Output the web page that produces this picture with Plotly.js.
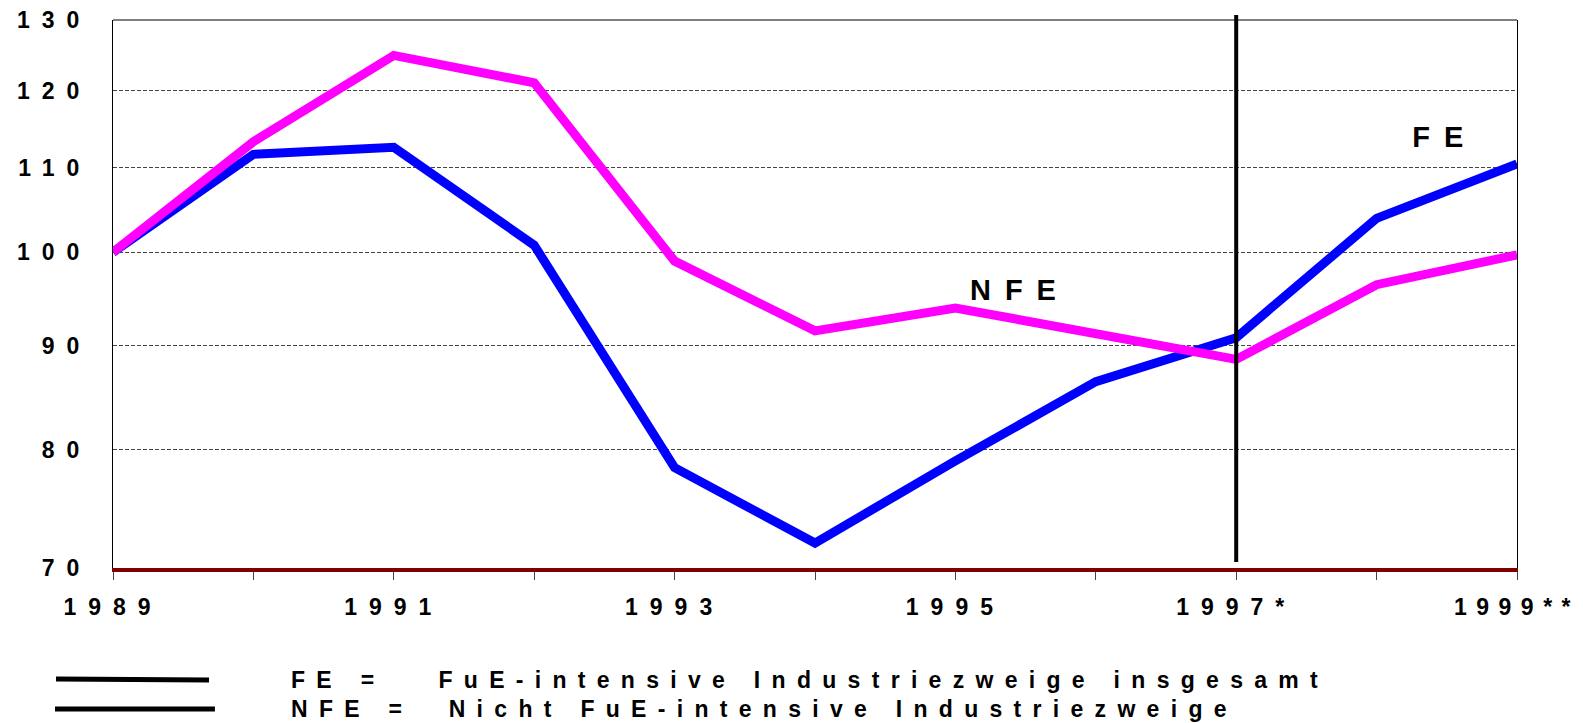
<!DOCTYPE html>
<html>
<head>
<meta charset="utf-8">
<script src="https://cdn.plot.ly/plotly-3.0.1.min.js"></script>
<style>
  html, body { margin: 0; padding: 0; background: #fff; }
  #chart { width: 1583px; height: 723px; }
  .xtick text, .ytick text { letter-spacing: 12px; }
  .xaxislayer-above .xtick:last-of-type text { letter-spacing: 9.5px; }
  .annotation-text { letter-spacing: 11.3px; }
  .big-label .annotation-text { letter-spacing: 14px; }
</style>
</head>
<body>
<div id="chart"></div>
<script>
// Data
const years = [1989, 1990, 1991, 1992, 1993, 1994, 1995, 1996, 1997, 1998, 1999];
const yearLabels = ['1989', '', '1991', '', '1993', '', '1995', '', '1997*', '', '1999**'];
const feValues  = [100, 111.7, 112.6, 100.8, 78.4, 72.0, 79.0, 86.4, 90.8, 103.9, 110.5];
const nfeValues = [100, 113.3, 124.9, 121.1, 99.0, 91.5, 93.9, 91.1, 88.6, 96.4, 99.7];
const yTicks = [70, 80, 90, 100, 110, 120, 130];
const dividerYear = 1997;
const legendLines = [
  'FE =\u00A0\u00A0\u00A0FuE-intensive Industriezweige\u00A0insgesamt',
  'NFE =\u00A0\u00A0Nicht FuE-intensive Industriezweige'
];

const font = 'Liberation Sans, Arial, Helvetica, sans-serif';

const traces = [
  { x: years, y: feValues, type: 'scatter', mode: 'lines', name: 'FE',
    line: { color: '#0000FF', width: 9 }, hoverinfo: 'skip' },
  { x: years, y: nfeValues, type: 'scatter', mode: 'lines', name: 'NFE',
    line: { color: '#FF00FF', width: 9 }, hoverinfo: 'skip' }
];

const layout = {
  width: 1583, height: 723,
  margin: { l: 113, r: 66, t: 20, b: 155 },
  paper_bgcolor: '#ffffff', plot_bgcolor: '#ffffff',
  showlegend: false,
  font: { family: font, color: '#000' },
  xaxis: {
    type: 'linear', range: [years[0], years[years.length - 1]],
    tickvals: years, ticktext: yearLabels,
    ticks: 'outside', ticklen: 8, tickwidth: 1, tickcolor: '#444',
    ticklabelstandoff: 7, ticklabeloverflow: 'allow',
    showgrid: false, zeroline: false,
    showline: true, linecolor: '#800000', linewidth: 4,
    tickfont: { family: font, size: 23, color: '#000', weight: 'bold' },
    fixedrange: true
  },
  yaxis: {
    type: 'log', range: [Math.log10(70), Math.log10(130)],
    tickvals: yTicks, ticktext: yTicks.map(String),
    ticks: '', ticklabelstandoff: 16,
    showgrid: true, gridcolor: '#444', gridwidth: 1, griddash: '4px,2px',
    zeroline: false,
    showline: true, linecolor: '#000', linewidth: 1, mirror: true,
    tickfont: { family: font, size: 23, color: '#000', weight: 'bold' },
    fixedrange: true
  },
  shapes: [
    { type: 'line', xref: 'paper', yref: 'paper', x0: 0, x1: 1, y0: 1, y1: 1,
      line: { color: '#000', width: 1 } },
    { type: 'line', xref: 'x', yref: 'paper', x0: dividerYear, x1: dividerYear, y0: 0.011, y1: 1.009,
      line: { color: '#000', width: 4 } },
    { type: 'line', xref: 'paper', yref: 'paper', x0: -0.0406, x1: 0.0684, y0: -0.2026, y1: -0.2044,
      line: { color: '#000', width: 5 } },
    { type: 'line', xref: 'paper', yref: 'paper', x0: -0.0413, x1: 0.0726, y0: -0.2573, y1: -0.2573,
      line: { color: '#000', width: 5 } }
  ],
  annotations: [
    { xref: 'paper', yref: 'paper', x: 0.6125, y: 0.5073, xanchor: 'left', yanchor: 'middle',
      text: 'NFE', showarrow: false, borderpad: 0,
      font: { family: font, size: 29, color: '#000', weight: 'bold' } },
    { xref: 'paper', yref: 'paper', x: 0.9265, y: 0.7865, xanchor: 'left', yanchor: 'middle',
      text: 'FE', showarrow: false, borderpad: 0,
      font: { family: font, size: 29, color: '#000', weight: 'bold' } },
    { xref: 'paper', yref: 'paper', x: 0.1261, y: -0.2044, xanchor: 'left', yanchor: 'middle',
      text: legendLines[0], showarrow: false, borderpad: 0,
      font: { family: font, size: 23, color: '#000', weight: 'bold' } },
    { xref: 'paper', yref: 'paper', x: 0.1261, y: -0.2570, xanchor: 'left', yanchor: 'middle',
      text: legendLines[1], showarrow: false, borderpad: 0,
      font: { family: font, size: 23, color: '#000', weight: 'bold' } }
  ]
};

Plotly.newPlot('chart', traces, layout, { staticPlot: true, displayModeBar: false }).then(function (gd) {
  const anns = gd.querySelectorAll('.annotation');
  if (anns[0]) anns[0].classList.add('big-label');
  if (anns[1]) anns[1].classList.add('big-label');
});
</script>
</body>
</html>
